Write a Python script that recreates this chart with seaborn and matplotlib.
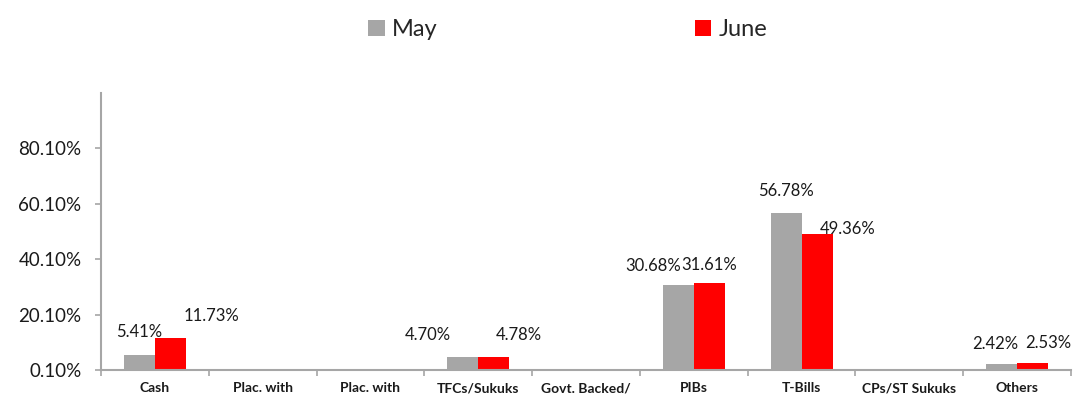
import matplotlib
matplotlib.use("Agg")
import matplotlib.pyplot as plt
from matplotlib.patches import Patch
from matplotlib.ticker import FixedLocator
import seaborn as sns
import pandas as pd

# Asset allocation, share of total assets (%)
categories = ["Cash", "Plac. with Banks/DFIs", "Plac. with NBFCs", "TFCs/Sukuks",
              "Govt. Backed/ Govt. Guaranteed", "PIBs", "T-Bills",
              "CPs/ST Sukuks", "Others"]
tick_labels = ["Cash", "Plac. with", "Plac. with", "TFCs/Sukuks", "Govt. Backed/",
               "PIBs", "T-Bills", "CPs/ST Sukuks", "Others"]
may = [5.41, 0.0, 0.0, 4.70, 0.0, 30.68, 56.78, 0.0, 2.42]
june = [11.73, 0.0, 0.0, 4.78, 0.0, 31.61, 49.36, 0.0, 2.53]
series = ["May", "June"]
y_ticks = [0.10, 20.10, 40.10, 60.10, 80.10]

colors = {"May": "#A6A6A6", "June": "#FF0000"}

# Label offsets (pixels) for each value label, per series
label_dx = {"May": [0, 0, 0, -35, 0, -25, 0, 0, -6],
            "June": [41, 0, 0, 25, 0, 0, 31, 0, 16]}
label_dy = {"May": [23, 0, 0, 22, 0, 19, 22, 0, 20],
            "June": [22, 0, 0, 22, 0, 18, 5, 0, 20]}

df = pd.DataFrame({
    "category": categories * 2,
    "series": ["May"] * len(categories) + ["June"] * len(categories),
    "value": may + june,
})

sns.set_style("white")
plt.rcParams["font.family"] = ["Lato", "DejaVu Sans"]

DPI = 100
fig = plt.figure(figsize=(10.73, 3.95), dpi=DPI)
ax = fig.add_axes([101 / 1073, 1 - 370 / 395, 970 / 1073, (370 - 93) / 395])

sns.barplot(data=df, x="category", y="value", hue="series", order=categories,
            hue_order=series, palette=colors, width=0.575, saturation=1,
            edgecolor="none", linewidth=0, ax=ax, legend=False)

ax.set_ylim(0.10, 100.10)
ax.set_xlim(-0.5, len(categories) - 0.5)
ax.set_xlabel("")
ax.set_ylabel("")

# Value labels
px = 72.0 / DPI
for s in series:
    vals = may if s == "May" else june
    for i, v in enumerate(vals):
        if v <= 0:
            continue
        x = i + (-0.14375 if s == "May" else 0.14375)
        ax.annotate(f"{v:.2f}%", xy=(x, v),
                    xytext=(label_dx[s][i] * px, label_dy[s][i] * px),
                    textcoords="offset points", ha="center", va="center",
                    fontsize=12, color="#1a1a1a", annotation_clip=False)

# Axes styling
axis_gray = "#A6A6A6"
for side in ["top", "right"]:
    ax.spines[side].set_visible(False)
for side in ["left", "bottom"]:
    ax.spines[side].set_color(axis_gray)
    ax.spines[side].set_linewidth(1.5)

ax.set_yticks(y_ticks)
ax.set_yticklabels([f"{t:.2f}%" for t in y_ticks])
ax.tick_params(axis="y", which="major", left=True, length=4, width=1.2,
               color=axis_gray, pad=10, labelsize=13.5, labelcolor="#1a1a1a")

ax.set_xticks(range(len(categories)))
ax.set_xticklabels(tick_labels, fontweight="bold", fontsize=10, color="#1a1a1a")
ax.xaxis.set_minor_locator(FixedLocator([i - 0.5 for i in range(len(categories) + 1)]))
ax.tick_params(axis="x", which="major", bottom=False, length=0, pad=9)
ax.tick_params(axis="x", which="minor", bottom=True, length=4, width=1.2,
               color=axis_gray)

# Legend across the top
handles = [Patch(facecolor=colors[s], edgecolor="none", label=s) for s in series]
fig.legend(handles=handles, loc="center", bbox_to_anchor=(0.529, 0.925),
           ncol=2, frameon=False, fontsize=17, handlelength=0.7,
           handleheight=0.7, handletextpad=0.3, columnspacing=10.9,
           borderpad=0)

fig.savefig("out.png", dpi=DPI)
